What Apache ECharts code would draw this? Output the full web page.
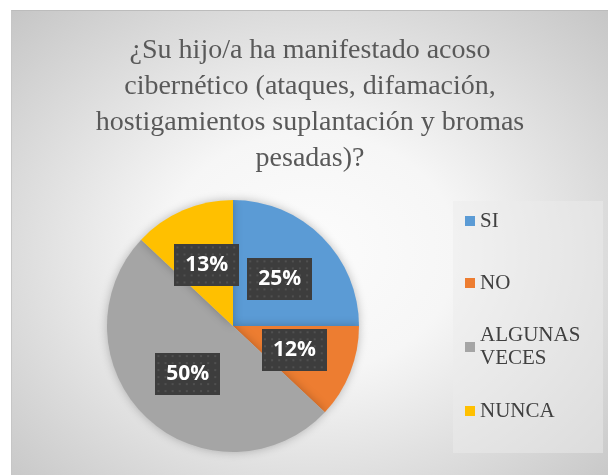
<!DOCTYPE html>
<html>
<head>
<meta charset="utf-8">
<script src="https://cdn.jsdelivr.net/npm/echarts@6/dist/echarts.min.js"></script>
<style>
body { margin: 0; background: #fff; }
#frame {
  position: absolute; left: 11px; top: 10px; width: 597px; height: 465px;
  border-top: 1px solid #bcbcbc; border-left: 1px solid #c6c6c6;
}
#chart {
  width: 596px; height: 464px;
  background: radial-gradient(farthest-corner at 50% 52%, #fcfcfc 0%, #f6f6f6 35%, #e2e2e2 62%, #c6c6c6 100%);
}
</style>
</head>
<body>
<div id="frame"><div id="chart"></div></div>
<script>
// datos
const categories = ["SI", "NO", "ALGUNAS VECES", "NUNCA"];
const values = [25, 12, 50, 13];
const colors = ["#5b9bd5", "#ed7d31", "#a5a5a5", "#ffc000"];
const legendNames = ["SI", "NO", "ALGUNAS\nVECES", "NUNCA"];

const titleText = "¿Su hijo/a ha manifestado acoso\ncibernético (ataques, difamación,\nhostigamientos suplantación y bromas\npesadas)?";

// posición vertical de cada leyenda (una por categoría)
const legendTops = [198.5, 260.5, 301.5, 388.5];

// fondo punteado de las etiquetas
function dotted() {
  const c = document.createElement("canvas");
  c.width = 64; c.height = 42;
  const ctx = c.getContext("2d");
  ctx.fillStyle = "#3d3d3d";
  ctx.fillRect(0, 0, 64, 42);
  ctx.fillStyle = "#505050";
  for (let x = 2; x < 64; x += 7) {
    for (let y = 2; y < 42; y += 7) {
      ctx.fillRect(x, y, 2, 2);
    }
  }
  return c;
}

const chart = echarts.init(document.getElementById("chart"));

const legends = categories.map((name, i) => ({
  orient: "vertical",
  left: 453,
  top: legendTops[i],
  padding: 0,
  itemWidth: 10,
  itemHeight: 10,
  icon: "rect",
  selectedMode: false,
  data: [name],
  formatter: () => legendNames[i],
  textStyle: {
    fontFamily: "Liberation Serif",
    fontSize: 21,
    lineHeight: 23,
    color: "#404040",
    padding: legendNames[i].indexOf("\n") > -1 ? [23, 0, 0, 0] : 0
  }
}));

chart.setOption({
  animation: false,
  color: colors,
  title: {
    text: titleText,
    left: "center",
    top: 22,
    padding: 0,
    textStyle: {
      fontFamily: "Liberation Serif",
      fontWeight: "normal",
      fontSize: 28,
      lineHeight: 36,
      color: "#595959"
    }
  },
  graphic: [
    {
      type: "rect",
      z: -1,
      shape: { x: 441, y: 190, width: 150, height: 252 },
      style: { fill: "rgba(236,236,236,0.5)" },
      silent: true
    }
  ],
  legend: legends,
  series: [
    {
      type: "pie",
      center: [221, 315],
      radius: 126,
      startAngle: 90,
      clockwise: true,
      avoidLabelOverlap: false,
      silent: true,
      itemStyle: {
        borderWidth: 0,
        shadowBlur: 10,
        shadowColor: "rgba(0,0,0,0.25)"
      },
      labelLine: { show: false },
      label: {
        show: true,
        position: "inside",
        formatter: "{c}%",
        color: "#fff",
        fontFamily: "Open Sans",
        fontWeight: "bold",
        fontSize: 21,
        lineHeight: 22,
        backgroundColor: { image: dotted() },
        padding: [10, 11, 10, 11],
        shadowColor: "rgba(0,0,0,0.45)",
        shadowBlur: 5,
        shadowOffsetX: 2,
        shadowOffsetY: 2
      },
      emphasis: { disabled: true },
      data: categories.map((name, i) => ({ name: name, value: values[i] }))
    }
  ]
});
</script>
</body>
</html>
